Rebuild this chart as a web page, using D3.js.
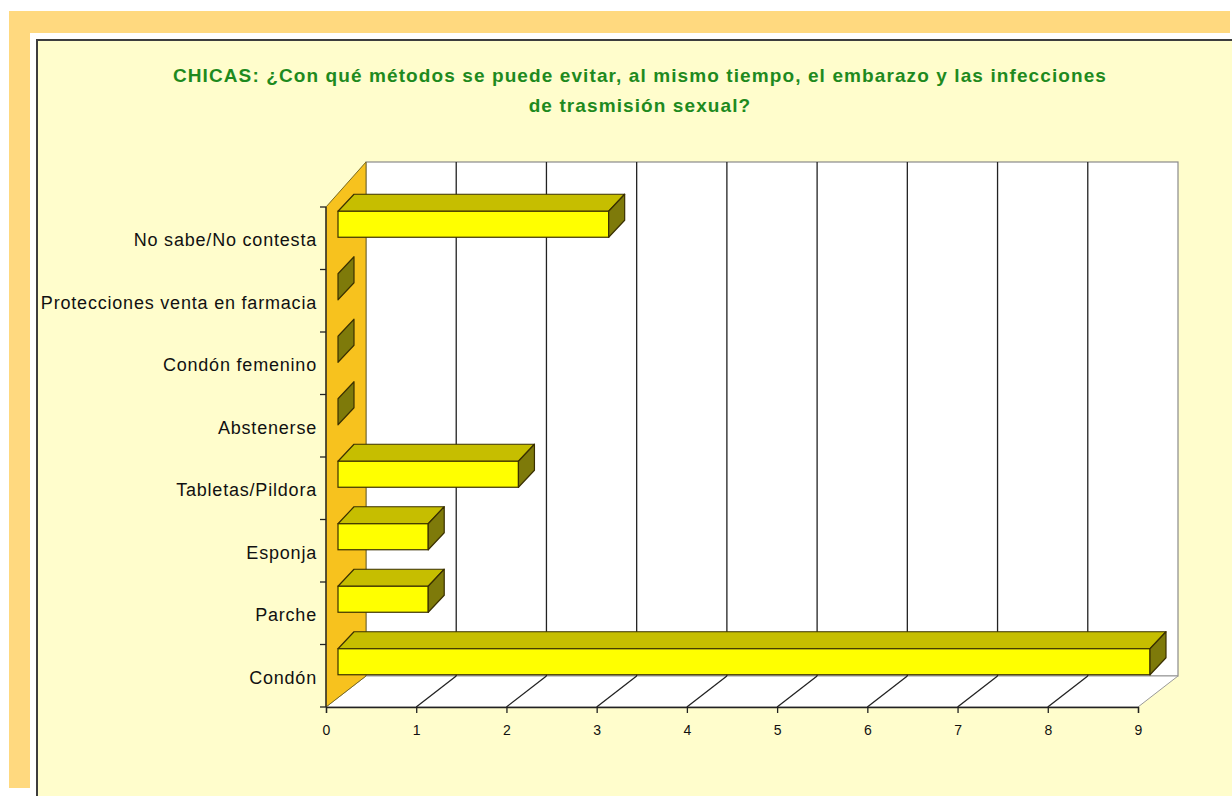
<!DOCTYPE html>
<html><head><meta charset="utf-8">
<script src="https://cdn.jsdelivr.net/npm/d3@7/dist/d3.min.js"></script>
<style>
html,body{margin:0;padding:0;background:#fff;}
svg{display:block;}
</style></head>
<body>
<script>
// ---- data ----
const titleLines = ["CHICAS: ¿Con qué métodos se puede evitar, al mismo tiempo, el embarazo y las infecciones", "de trasmisión sexual?"];
const categories = ["No sabe/No contesta","Protecciones venta en farmacia","Condón femenino","Abstenerse","Tabletas/Pildora","Esponja","Parche","Condón"];
const values = [3,0,0,0,2,1,1,9];
const xTicks = [0,1,2,3,4,5,6,7,8,9];

const W = 1232, H = 796;
const svg = d3.select("body").append("svg").attr("width", W).attr("height", H);

// frame
svg.append("rect").attr("x",0).attr("y",0).attr("width",W).attr("height",H).attr("fill","#ffffff");
svg.append("rect").attr("x",9).attr("y",11).attr("width",1221).attr("height",22).attr("fill","#FFD97F");
svg.append("rect").attr("x",9).attr("y",11).attr("width",21).attr("height",777).attr("fill","#FFD97F");
svg.append("rect").attr("x",37).attr("y",40).attr("width",W-37+5).attr("height",H-40+5)
  .attr("fill","#FFFDCC").attr("stroke","#3d3d3d").attr("stroke-width",2);

// title
const title = svg.append("text").attr("text-anchor","middle")
  .attr("font-family","Liberation Sans, Arial, sans-serif").attr("font-weight","bold")
  .attr("font-size",19).attr("letter-spacing",1.1).attr("fill","#1E8A1E");
titleLines.forEach((t,i)=>{
  title.append("tspan").attr("x",640).attr("y",82 + i*30).text(t);
});

// scales
const x = d3.scaleLinear().domain([0,9]).range([326,1138]);
const y = d3.scaleBand().domain(categories).range([207,707]);
const DX = 40, DY = -31;
const x0 = x(0), yTop = y.range()[0], yBot = y.range()[1];

const g = svg.append("g");
// back wall
g.append("rect").attr("x",x0+DX).attr("y",yTop-45).attr("width",x(9)-x0).attr("height",yBot-yTop+45+DY)
  .attr("fill","#ffffff").attr("stroke","#8a8a8a").attr("stroke-width",1.2);
// floor
g.append("path").attr("d",`M${x0},${yBot}L${x(9)},${yBot}L${x(9)+DX},${yBot+DY}L${x0+DX},${yBot+DY}Z`)
  .attr("fill","#ffffff").attr("stroke","#9a9a9a").attr("stroke-width",1);
// gridlines on wall and floor
xTicks.slice(1,-1).forEach(t=>{
  g.append("line").attr("x1",x(t)+DX).attr("x2",x(t)+DX).attr("y1",yTop-45).attr("y2",yBot+DY)
    .attr("stroke","#222").attr("stroke-width",1.3);
  g.append("line").attr("x1",x(t)+DX).attr("x2",x(t)).attr("y1",yBot+DY).attr("y2",yBot)
    .attr("stroke","#222").attr("stroke-width",1.3);
});
// side wall
g.append("path").attr("d",`M${x0},${yTop}L${x0+DX},${yTop-45}L${x0+DX},${yBot+DY}L${x0},${yBot}Z`)
  .attr("fill","#F7C21E").attr("stroke","#7a6a20").attr("stroke-width",1);

// y axis (ticks at band boundaries)
const yAx = svg.append("g").attr("transform",`translate(${x0},0)`);
yAx.append("line").attr("x1",0).attr("x2",0).attr("y1",yTop).attr("y2",yBot).attr("stroke","#222").attr("stroke-width",1.3);
const bounds = categories.map(c=>y(c)).concat([yBot]);
yAx.selectAll("line.tk").data(bounds).join("line").attr("class","tk")
  .attr("x1",-6).attr("x2",0).attr("y1",d=>d).attr("y2",d=>d).attr("stroke","#222").attr("stroke-width",1.3);
yAx.selectAll("text").data(categories).join("text")
  .attr("x",-9).attr("y",d=>y(d)+y.bandwidth()/2).attr("dy","0.45em")
  .attr("text-anchor","end").attr("font-family","Liberation Sans, Arial, sans-serif")
  .attr("font-size",18).attr("letter-spacing",0.8).attr("fill","#111").text(d=>d);

const xAxis = d3.axisBottom(x).tickValues(xTicks).tickSize(6).tickFormat(d3.format("d"));
const xAx = svg.append("g").attr("transform",`translate(0,${yBot})`).call(xAxis);
xAx.select(".domain").attr("stroke","#222").attr("stroke-width",1.3);
xAx.selectAll(".tick line").attr("stroke","#222").attr("stroke-width",1.3);
xAx.selectAll(".tick text").attr("font-family","Liberation Sans, Arial, sans-serif")
  .attr("font-size",14).attr("fill","#111").attr("y",28).attr("dy",0)
  .attr("transform",null).style("font-stretch","condensed");

// bars
const OFFX = 12, OFFY = -14, BH = 26, BDX = 16, BDY = -17;
const bars = svg.append("g");
const sc = "#3a3000", sw = 1.2;
categories.forEach((c,i)=>{
  const v = values[i];
  const cy = y(c) + y.bandwidth()/2 + OFFY;
  const xa = x(0)+OFFX, xb = x(v)+OFFX;
  const yt = cy - BH/2, yb = cy + BH/2;
  if (v > 0) {
    bars.append("path").attr("d",`M${xa},${yt}L${xa+BDX},${yt+BDY}L${xb+BDX},${yt+BDY}L${xb},${yt}Z`)
      .attr("fill","#C6BE00").attr("stroke",sc).attr("stroke-width",sw).attr("stroke-linejoin","round");
    bars.append("rect").attr("x",xa).attr("y",yt).attr("width",xb-xa).attr("height",BH)
      .attr("fill","#FFFF00").attr("stroke",sc).attr("stroke-width",sw);
  }
  bars.append("path").attr("d",`M${xb},${yt}L${xb+BDX},${yt+BDY}L${xb+BDX},${yb+BDY}L${xb},${yb}Z`)
    .attr("fill","#7E7A0A").attr("stroke",sc).attr("stroke-width",sw).attr("stroke-linejoin","round");
});
</script>
</body></html>
